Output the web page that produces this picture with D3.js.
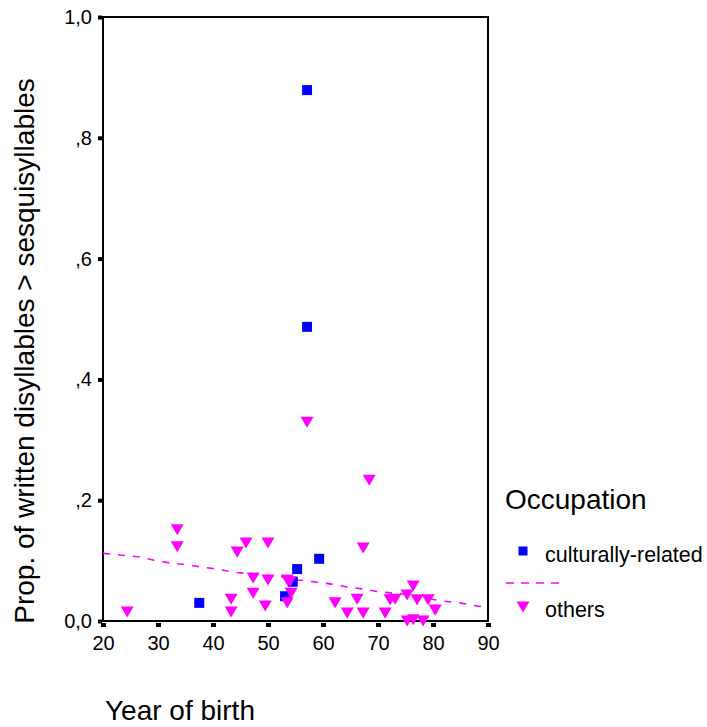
<!DOCTYPE html>
<html>
<head>
<meta charset="utf-8">
<script src="https://cdn.jsdelivr.net/npm/d3@7"></script>
<style>
  html, body { margin: 0; padding: 0; background: #fff; }
  svg { display: block; }
  text { font-family: "Liberation Sans", Arial, sans-serif; fill: #000; }
</style>
</head>
<body>
<svg id="chart" width="707" height="727"></svg>
<script>
// ---- data ----
const xTicks = [20, 30, 40, 50, 60, 70, 80, 90];
const xTickLabels = ["20", "30", "40", "50", "60", "70", "80", "90"];
const yTicks = [0, 0.2, 0.4, 0.6, 0.8, 1.0];
const yTickLabels = ["0,0", ",2", ",4", ",6", ",8", "1,0"];

const culturalX = [57.1, 57.1, 37.5, 55.3, 59.3, 53.1, 54.5];
const culturalY = [0.879, 0.487, 0.030, 0.086, 0.103, 0.041, 0.065];

const othersX = [57.1, 68.4, 33.5, 33.5, 24.4, 44.4, 46.0, 50.0, 67.3, 47.3,
                 50.0, 47.3, 43.3, 43.3, 49.5, 53.5, 54.0, 54.2, 53.5, 62.2,
                 64.4, 66.2, 67.3, 71.3, 72.2, 73.1, 75.3, 76.4, 77.1, 79.1,
                 80.4, 75.3, 76.4, 78.2];
const othersY = [0.329, 0.233, 0.151, 0.123, 0.015, 0.114, 0.129, 0.129, 0.121, 0.071,
                 0.068, 0.046, 0.036, 0.015, 0.025, 0.068, 0.065, 0.046, 0.030, 0.030,
                 0.013, 0.036, 0.013, 0.013, 0.035, 0.036, 0.043, 0.058, 0.035, 0.035,
                 0.018, 0.000, 0.002, 0.000];

const fitX = [20, 26.7, 29.1, 32.2, 35.3, 38.2, 40.7, 43.6, 52.5, 55.5, 58.2, 61.6,
              64.5, 67.3, 70.4, 73.5, 81.8, 84.9, 87.3, 90];
const fitY = [0.112, 0.106, 0.101, 0.096, 0.093, 0.089, 0.086, 0.081, 0.073, 0.068,
              0.065, 0.061, 0.056, 0.053, 0.048, 0.046, 0.033, 0.030, 0.026, 0.022];

const seriesNames = ["culturally-related", "others"];
const legendTitle = "Occupation";
const xTitle = "Year of birth";
const yTitle = "Prop. of written disyllables > sesquisyllables";

// ---- drawing ----
const BLUE = "#0000ff", MAGENTA = "#ff00ff";
const svg = d3.select("#chart");
const x = d3.scaleLinear().domain([20, 90]).range([103, 488]);
const y = d3.scaleLinear().domain([0, 1]).range([621, 17]);

// down-pointing triangle symbol centred on its bounding box
const downTri = {
  draw(ctx, size) {
    const w = Math.sqrt(size), h = w * 0.85;
    ctx.moveTo(-w / 2, -h / 2);
    ctx.lineTo(w / 2, -h / 2);
    ctx.lineTo(0, h / 2);
    ctx.closePath();
  }
};

// frame
svg.append("rect")
  .attr("x", x(20)).attr("y", y(1))
  .attr("width", x(90) - x(20)).attr("height", y(0) - y(1))
  .attr("fill", "none").attr("stroke", "#000").attr("stroke-width", 2);

// y axis
const yAxis = d3.axisLeft(y).tickValues(yTicks)
  .tickFormat((d, i) => yTickLabels[i]).tickSize(4).tickPadding(6);
const gy = svg.append("g").attr("transform", `translate(${x(20) - 1},0)`).call(yAxis);
gy.select(".domain").remove();
gy.selectAll(".tick line").attr("stroke", "#000").attr("stroke-width", 4);
gy.selectAll(".tick text").attr("font-size", 20).attr("font-family", "Liberation Sans, Arial, sans-serif");

// x axis
const xAxis = d3.axisBottom(x).tickValues(xTicks)
  .tickFormat((d, i) => xTickLabels[i]).tickSize(4).tickPadding(9);
const gx = svg.append("g").attr("transform", `translate(0,${y(0) + 2})`).call(xAxis);
gx.select(".domain").remove();
gx.selectAll(".tick line").attr("stroke", "#000").attr("stroke-width", 5);
gx.selectAll(".tick text").attr("font-size", 20).attr("font-family", "Liberation Sans, Arial, sans-serif");

// fit line
const fitData = fitX.map((v, i) => [v, fitY[i]]);
svg.append("path")
  .attr("d", d3.line().x(d => x(d[0])).y(d => y(d[1]))(fitData))
  .attr("fill", "none").attr("stroke", MAGENTA).attr("stroke-width", 1.6)
  .attr("stroke-dasharray", "7,8");

// culturally-related squares
const cult = culturalX.map((v, i) => [v, culturalY[i]]);
svg.append("g").selectAll("path").data(cult).join("path")
  .attr("transform", d => `translate(${x(d[0])},${y(d[1])})`)
  .attr("d", d3.symbol(d3.symbolSquare, 100))
  .attr("fill", BLUE);

// others triangles
const oth = othersX.map((v, i) => [v, othersY[i]]);
svg.append("g").selectAll("path").data(oth).join("path")
  .attr("transform", d => `translate(${x(d[0])},${y(d[1])})`)
  .attr("d", d3.symbol(downTri, 169))
  .attr("fill", MAGENTA);

// axis titles
svg.append("text")
  .attr("transform", `translate(34,351) rotate(-90)`)
  .attr("text-anchor", "middle")
  .attr("font-size", 28)
  .text(yTitle);
svg.append("text")
  .attr("x", 105).attr("y", 720)
  .attr("font-size", 28)
  .text(xTitle);

// legend
const lg = svg.append("g");
lg.append("text").attr("x", 505).attr("y", 509).attr("font-size", 28).text(legendTitle);
lg.append("path")
  .attr("transform", "translate(523,551)")
  .attr("d", d3.symbol(d3.symbolSquare, 81)).attr("fill", BLUE);
lg.append("text").attr("x", 545).attr("y", 562).attr("font-size", 21.5).text(seriesNames[0]);
lg.append("line")
  .attr("x1", 506).attr("x2", 561).attr("y1", 583).attr("y2", 583)
  .attr("stroke", MAGENTA).attr("stroke-width", 1.6).attr("stroke-dasharray", "8,7");
lg.append("path")
  .attr("transform", "translate(523,607)")
  .attr("d", d3.symbol(downTri, 169)).attr("fill", MAGENTA);
lg.append("text").attr("x", 545).attr("y", 617).attr("font-size", 21.5).text(seriesNames[1]);
</script>
</body>
</html>
